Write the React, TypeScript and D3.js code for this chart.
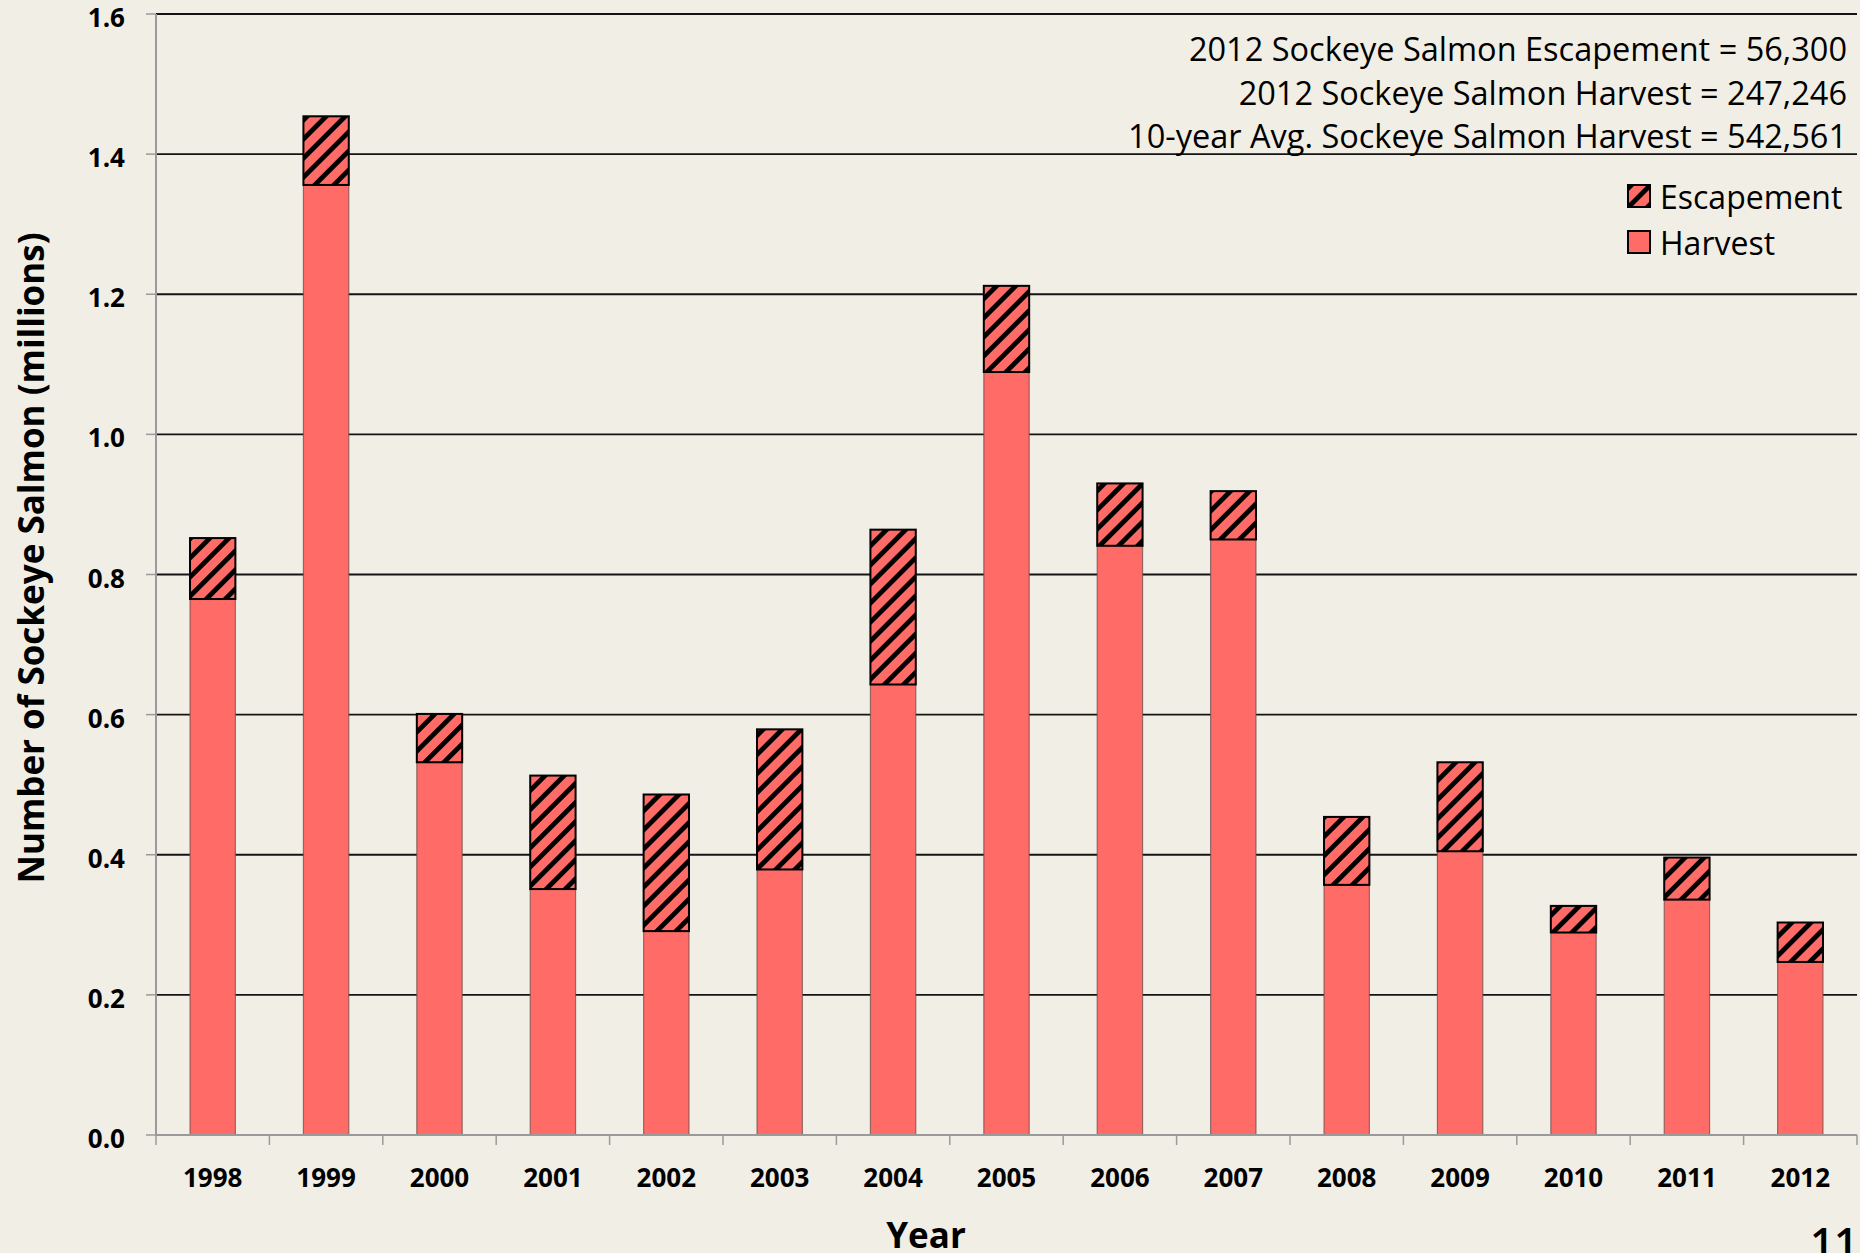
import * as d3 from "d3";

const years = ["1998", "1999", "2000", "2001", "2002", "2003", "2004", "2005", "2006", "2007", "2008", "2009", "2010", "2011", "2012"];
// millions of fish
const harvest = [0.765, 1.356, 0.532, 0.351, 0.291, 0.379, 0.643, 1.089, 0.841, 0.85, 0.357, 0.405, 0.289, 0.336, 0.247];
const escapement = [0.087, 0.098, 0.069, 0.162, 0.195, 0.2, 0.221, 0.123, 0.089, 0.069, 0.097, 0.127, 0.038, 0.06, 0.0563];
const yTicks = [0, 0.2, 0.4, 0.6, 0.8, 1.0, 1.2, 1.4, 1.6];
const notes = [
  "2012 Sockeye Salmon Escapement = 56,300",
  "2012 Sockeye Salmon Harvest = 247,246",
  "10-year Avg. Sockeye Salmon Harvest = 542,561",
];
const legendItems = ["Escapement", "Harvest"];

const W = 1860,
  H = 1253;
const margin = { top: 14, right: 3, bottom: 118, left: 156 };
const BG = "#f1eee6";
const SALMON = "#ff6b66";
const FONT = "'Open Sans', 'DejaVu Sans', sans-serif";

export default function App() {
  const x = d3
    .scaleBand()
    .domain(years)
    .range([margin.left, W - margin.right])
    .paddingInner(0.6)
    .paddingOuter(0.3);
  const y = d3.scaleLinear().domain([0, 1.6]).range([H - margin.bottom, margin.top]);
  const step = x.step();
  const x0 = margin.left;
  const x1 = W - margin.right;
  const yBase = y(0);

  const stacked = years.map((yr, i) => ({
    yr,
    h: harvest[i],
    total: harvest[i] + escapement[i],
  }));

  return (
    <svg
      width={W}
      height={H}
      style={{ position: "absolute", left: 0, top: 0, display: "block", background: BG }}
      fontFamily={FONT}
    >
      <defs>
        <pattern id="hatch" patternUnits="userSpaceOnUse" width={13.5} height={13.5} patternTransform="rotate(45)">
          <rect width={13.5} height={13.5} fill={SALMON} />
          <rect x={0} width={4.8} height={13.5} fill="#000" />
        </pattern>
      </defs>
      <rect width={W} height={H} fill={BG} />

      {/* gridlines */}
      {yTicks
        .filter((t) => t > 0)
        .map((t) => (
          <line key={t} x1={x0} x2={x1} y1={y(t)} y2={y(t)} stroke="#141414" strokeWidth={1.8} />
        ))}

      {/* axes */}
      <line x1={x0} x2={x0} y1={y(1.6)} y2={yBase} stroke="#9a9a9a" strokeWidth={2} />
      {yTicks.map((t) => (
        <g key={"yt" + t}>
          <line x1={x0 - 10} x2={x0} y1={y(t)} y2={y(t)} stroke="#9a9a9a" strokeWidth={1.5} />
          <text x={125} y={y(t)} dy="0.5em" textAnchor="end" fontSize={26} fontWeight={700} fill="#000">
            {d3.format(".1f")(t)}
          </text>
        </g>
      ))}

      {/* bars */}
      {stacked.map((d) => (
        <g key={d.yr}>
          <rect
            x={x(d.yr)}
            width={x.bandwidth()}
            y={y(d.h)}
            height={yBase - y(d.h)}
            fill={SALMON}
            stroke="#6a4a48"
            strokeOpacity={0.7}
            strokeWidth={1.2}
          />
          <rect
            x={x(d.yr)}
            width={x.bandwidth()}
            y={y(d.total)}
            height={y(d.h) - y(d.total)}
            fill="url(#hatch)"
            stroke="#000"
            strokeWidth={2}
          />
        </g>
      ))}

      <line x1={x0} x2={x1} y1={yBase} y2={yBase} stroke="#9a9a9a" strokeWidth={2} />
      {d3.range(years.length + 1).map((i) => (
        <line key={"xt" + i} x1={x0 + i * step} x2={x0 + i * step} y1={yBase} y2={yBase + 10} stroke="#9a9a9a" strokeWidth={1.5} />
      ))}
      {years.map((yr) => (
        <text key={"xl" + yr} x={(x(yr) as number) + x.bandwidth() / 2} y={1187} textAnchor="middle" fontSize={26} fontWeight={700}>
          {yr}
        </text>
      ))}

      {/* titles */}
      <text x={926} y={1248} textAnchor="middle" fontSize={35} fontWeight={700}>
        Year
      </text>
      <text
        transform={`translate(44,558) rotate(-90)`}
        textAnchor="middle"
        fontSize={35}
        fontWeight={700}
      >
        Number of Sockeye Salmon (millions)
      </text>
      <text x={1858} y={1258} textAnchor="end" fontSize={42} fontWeight={600}>
        11
      </text>

      {/* annotations */}
      {notes.map((n, i) => (
        <text key={n} x={1847} y={61 + i * 43.5} textAnchor="end" fontSize={32.5} fill="#000">
          {n}
        </text>
      ))}

      {/* legend */}
      {legendItems.map((name, i) => (
        <g key={name} transform={`translate(1628,${185 + i * 46})`}>
          <rect width={22} height={22} fill={i === 0 ? "url(#hatch)" : SALMON} stroke="#000" strokeWidth={2} />
          <text x={32} y={24} fontSize={32}>
            {name}
          </text>
        </g>
      ))}
    </svg>
  );
}
